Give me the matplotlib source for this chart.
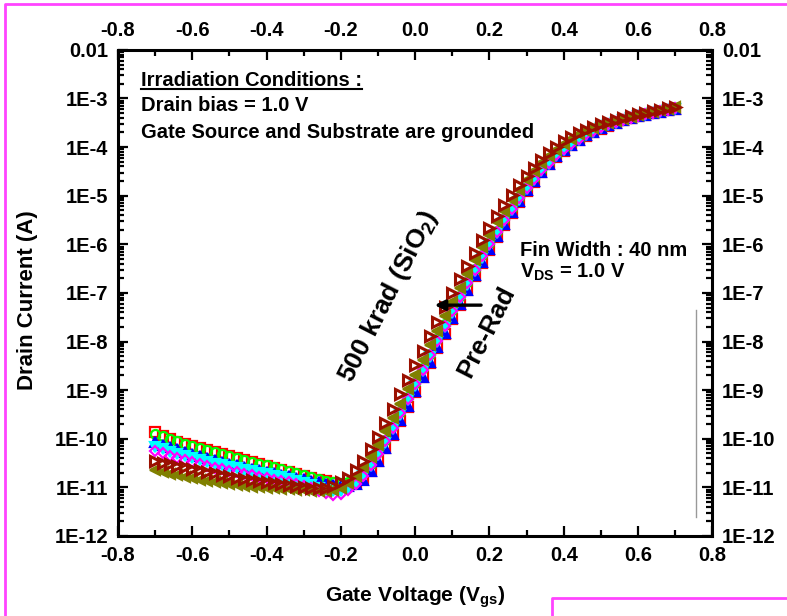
import numpy as np
import matplotlib
matplotlib.use('Agg')
import matplotlib.pyplot as plt
from matplotlib.lines import Line2D

plt.rcParams['font.family'] = ['Liberation Sans', 'DejaVu Sans']
plt.rcParams['font.weight'] = 'bold'
plt.rcParams['mathtext.fontset'] = 'custom'
plt.rcParams['mathtext.rm'] = 'Liberation Sans:bold'
plt.rcParams['mathtext.it'] = 'Liberation Sans:bold'
plt.rcParams['mathtext.bf'] = 'Liberation Sans:bold'

# gate sweep, -0.70 V to 0.70 V in 20 mV steps
vgs = np.round(np.arange(-0.70, 0.7001, 0.02), 2)

# log10 of drain current for each dose step
log_red = [-9.87, -9.95, -10.01, -10.06, -10.11, -10.16, -10.20, -10.24, -10.28, -10.32,
           -10.36, -10.40, -10.44, -10.48, -10.52, -10.56, -10.60, -10.64, -10.68, -10.72,
           -10.76, -10.80, -10.84, -10.88, -10.92, -10.95, -10.95, -10.91, -10.82, -10.66,
           -10.45, -10.20, -9.92, -9.63, -9.34, -9.04, -8.74, -8.44, -8.14, -7.84,
           -7.54, -7.24, -6.95, -6.66, -6.38, -6.11, -5.85, -5.60, -5.36, -5.13,
           -4.91, -4.71, -4.52, -4.35, -4.20, -4.07, -3.96, -3.86, -3.77, -3.69,
           -3.62, -3.56, -3.50, -3.45, -3.41, -3.37, -3.33, -3.30, -3.27, -3.24, -3.21]
log_green = [-9.90, -9.95, -10.00, -10.05, -10.10, -10.15, -10.19, -10.23, -10.27, -10.31,
             -10.35, -10.39, -10.43, -10.47, -10.51, -10.55, -10.59, -10.63, -10.67, -10.71,
             -10.75, -10.79, -10.83, -10.87, -10.90, -10.91, -10.89, -10.83, -10.70, -10.51,
             -10.28, -10.02, -9.74, -9.45, -9.15, -8.85, -8.55, -8.25, -7.95, -7.65,
             -7.36, -7.07, -6.78, -6.50, -6.23, -5.97, -5.72, -5.48, -5.25, -5.03,
             -4.83, -4.64, -4.47, -4.31, -4.17, -4.04, -3.93, -3.83, -3.75, -3.67,
             -3.60, -3.54, -3.49, -3.44, -3.40, -3.36, -3.32, -3.29, -3.26, -3.23, -3.20]
log_blue = [-10.07, -10.12, -10.17, -10.22, -10.27, -10.31, -10.35, -10.39, -10.43, -10.47,
            -10.51, -10.55, -10.59, -10.62, -10.65, -10.68, -10.71, -10.74, -10.77, -10.80,
            -10.83, -10.86, -10.89, -10.93, -10.96, -10.98, -10.98, -10.94, -10.84, -10.67,
            -10.45, -10.19, -9.91, -9.62, -9.32, -9.02, -8.72, -8.42, -8.12, -7.82,
            -7.52, -7.22, -6.93, -6.64, -6.36, -6.09, -5.83, -5.58, -5.34, -5.11,
            -4.89, -4.69, -4.51, -4.34, -4.19, -4.06, -3.95, -3.85, -3.76, -3.68,
            -3.61, -3.55, -3.50, -3.45, -3.41, -3.37, -3.33, -3.30, -3.27, -3.24, -3.21]
log_cyan = [-10.17, -10.22, -10.27, -10.31, -10.35, -10.39, -10.43, -10.47, -10.51, -10.55,
            -10.58, -10.61, -10.64, -10.67, -10.70, -10.73, -10.76, -10.79, -10.83, -10.87,
            -10.91, -10.96, -11.01, -11.05, -11.08, -11.07, -11.02, -10.92, -10.77, -10.57,
            -10.34, -10.08, -9.80, -9.51, -9.21, -8.91, -8.61, -8.31, -8.01, -7.71,
            -7.41, -7.12, -6.83, -6.55, -6.28, -6.02, -5.77, -5.53, -5.30, -5.08,
            -4.87, -4.68, -4.50, -4.34, -4.19, -4.06, -3.95, -3.85, -3.76, -3.68,
            -3.61, -3.55, -3.50, -3.45, -3.41, -3.37, -3.33, -3.30, -3.27, -3.24, -3.21]
log_magenta = [-10.25, -10.30, -10.35, -10.40, -10.44, -10.48, -10.52, -10.56, -10.60, -10.63,
               -10.66, -10.69, -10.72, -10.75, -10.78, -10.81, -10.84, -10.87, -10.90, -10.93,
               -10.97, -11.02, -11.07, -11.12, -11.15, -11.13, -11.05, -10.93, -10.76, -10.55,
               -10.31, -10.05, -9.77, -9.48, -9.18, -8.88, -8.58, -8.28, -7.98, -7.68,
               -7.38, -7.09, -6.80, -6.52, -6.25, -5.99, -5.74, -5.50, -5.27, -5.05,
               -4.85, -4.66, -4.48, -4.32, -4.17, -4.04, -3.93, -3.83, -3.74, -3.66,
               -3.59, -3.53, -3.48, -3.44, -3.40, -3.36, -3.32, -3.29, -3.26, -3.23, -3.20]
log_olive = [-10.64, -10.68, -10.72, -10.75, -10.78, -10.81, -10.84, -10.87, -10.89, -10.91,
             -10.93, -10.95, -10.97, -10.99, -11.00, -11.01, -11.02, -11.03, -11.04, -11.05,
             -11.06, -11.07, -11.08, -11.08, -11.06, -11.01, -10.91, -10.77, -10.59, -10.37,
             -10.12, -9.85, -9.57, -9.28, -8.98, -8.68, -8.38, -8.08, -7.78, -7.48,
             -7.19, -6.90, -6.61, -6.33, -6.06, -5.80, -5.55, -5.31, -5.09, -4.88,
             -4.68, -4.50, -4.33, -4.18, -4.05, -3.93, -3.83, -3.74, -3.67, -3.61,
             -3.55, -3.50, -3.46, -3.42, -3.38, -3.34, -3.30, -3.27, -3.24, -3.21, -3.18]
log_500k = [-10.45, -10.49, -10.53, -10.56, -10.59, -10.62, -10.65, -10.68, -10.71, -10.74,
            -10.77, -10.80, -10.83, -10.85, -10.87, -10.89, -10.91, -10.93, -10.95, -10.97,
            -10.99, -11.01, -11.02, -11.01, -10.97, -10.90, -10.80, -10.65, -10.45, -10.22,
            -9.96, -9.68, -9.39, -9.09, -8.79, -8.49, -8.19, -7.89, -7.59, -7.30,
            -7.01, -6.72, -6.44, -6.17, -5.91, -5.66, -5.42, -5.19, -4.98, -4.78,
            -4.59, -4.42, -4.26, -4.12, -3.99, -3.88, -3.79, -3.71, -3.64, -3.58,
            -3.53, -3.48, -3.44, -3.40, -3.36, -3.32, -3.29, -3.26, -3.23, -3.20, -3.17]

series = [
    (log_red, 's', '#ff0000', 'none'),
    (log_green, 'o', '#00ff00', 'none'),
    (log_blue, '^', '#0000ff', '#0000ff'),
    (log_cyan, 'v', '#00ffff', '#00ffff'),
    (log_magenta, 'D', '#ff00ff', 'none'),
    (log_olive, '<', '#808000', '#808000'),
    (log_500k, '>', '#9a1000', 'none'),
]

x_ticks = [-0.8, -0.6, -0.4, -0.2, 0.0, 0.2, 0.4, 0.6, 0.8]
x_ticklabels = ['-0.8', '-0.6', '-0.4', '-0.2', '0.0', '0.2', '0.4', '0.6', '0.8']
y_ticks = [1e-12, 1e-11, 1e-10, 1e-9, 1e-8, 1e-7, 1e-6, 1e-5, 1e-4, 1e-3, 1e-2]
y_ticklabels = ['1E-12', '1E-11', '1E-10', '1E-9', '1E-8', '1E-7', '1E-6',
                '1E-5', '1E-4', '1E-3', '0.01']

fig = plt.figure(figsize=(7.87, 6.16), dpi=100)
ax = fig.add_axes([0.150, 0.130, 0.755, 0.789])

for logs, mk, col, face in series:
    ms = {'s': 6.5, 'D': 5.5, '>': 7}.get(mk, 6.5)
    mew = 2.2 if mk == '>' else 1.6
    ax.plot(vgs, 10 ** np.array(logs), ls='none', marker=mk, ms=ms,
            mec=col, mfc=face, mew=mew)

ax.set_yscale('log')
ax.set_xlim(-0.8, 0.8)
ax.set_ylim(1e-12, 1e-2)
ax.set_xticks(x_ticks)
ax.set_xticklabels(x_ticklabels)
ax.set_xticks(np.arange(-0.7, 0.8, 0.2), minor=True)
ax.set_yticks(y_ticks)
ax.set_yticklabels(y_ticklabels)
ax.yaxis.set_minor_locator(matplotlib.ticker.LogLocator(base=10, subs=np.arange(2, 10), numticks=20))
ax.yaxis.set_minor_formatter(matplotlib.ticker.NullFormatter())

ax.tick_params(which='both', direction='in', top=True, right=True,
               labeltop=True, labelright=True, labelsize=14.5, width=1.6)
ax.tick_params(which='major', length=7, pad=7)
ax.tick_params(which='minor', length=4)
for sp in ax.spines.values():
    sp.set_linewidth(2.2)

fig.text(28 / 787, 1 - 300 / 616, 'Drain Current (A)', rotation=90,
         ha='center', va='center', fontsize=16, fontweight='bold')
fig.text(415 / 787, 1 - 597 / 616, r'Gate Voltage (V$_{\mathregular{gs}}$)',
         ha='center', va='center', fontsize=15, fontweight='bold')

head = ax.text(0.039, 0.938, 'Irradiation Conditions :', transform=ax.transAxes,
               ha='left', va='center', fontsize=14.5, fontweight='bold')
ax.text(0.039, 0.885, 'Drain bias = 1.0 V', transform=ax.transAxes,
        ha='left', va='center', fontsize=14.5, fontweight='bold')
ax.text(0.039, 0.831, 'Gate Source and Substrate are grounded', transform=ax.transAxes,
        ha='left', va='center', fontsize=14.5, fontweight='bold')
ax.text(0.677, 0.588, 'Fin Width : 40 nm', transform=ax.transAxes,
        ha='left', va='center', fontsize=14.5, fontweight='bold')
ax.text(0.677, 0.543, r'V$_{\mathregular{DS}}$ = 1.0 V', transform=ax.transAxes,
        ha='left', va='center', fontsize=14.5, fontweight='bold')
ax.text(0.455, 0.494, r'500 krad (SiO$_{\mathregular{2}}$)', transform=ax.transAxes,
        ha='center', va='center', rotation=63, fontsize=19, fontweight='bold')
ax.text(0.620, 0.420, 'Pre-Rad', transform=ax.transAxes,
        ha='center', va='center', rotation=63, fontsize=18.5, fontweight='bold')

# shift arrow between pre-rad and irradiated curves
ax.annotate('', xy=(0.045, 5.6e-8), xytext=(0.185, 5.6e-8),
            arrowprops=dict(arrowstyle='-|>', color='black', lw=2.4, mutation_scale=15))

ax.plot([0.757, 0.757], [4.5e-8, 2.4e-12], color='#999999', lw=1)

# underline for the heading
fig.canvas.draw()
bb = head.get_window_extent().transformed(fig.transFigure.inverted())
fig.add_artist(Line2D([bb.x0, bb.x1], [bb.y0 + 0.001, bb.y0 + 0.001],
                      transform=fig.transFigure, color='black', lw=1.5))

# magenta frame lines
frame = '#ff44ff'
fig.add_artist(Line2D([5 / 787, 5 / 787, 1.0], [0.0, 1 - 4 / 616, 1 - 4 / 616],
                      transform=fig.transFigure, color=frame, lw=2))
fig.add_artist(Line2D([552 / 787, 552 / 787, 1.0], [0.0, 1 - 598 / 616, 1 - 598 / 616],
                      transform=fig.transFigure, color=frame, lw=2))

fig.savefig('out.png', dpi=100)
